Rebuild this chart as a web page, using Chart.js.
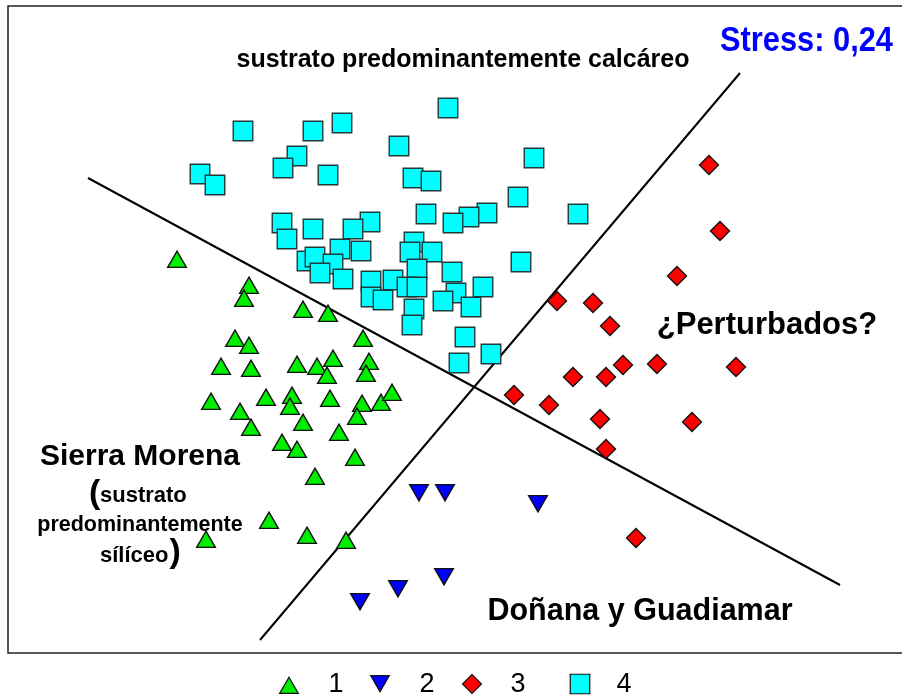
<!DOCTYPE html>
<html lang="es">
<head>
<meta charset="utf-8">
<title>MDS - Stress 0,24</title>
<script src="https://cdn.jsdelivr.net/npm/chart.js@4.4.1/dist/chart.umd.min.js"></script>
<style>
  html, body { margin: 0; padding: 0; background: #fff; }
  #wrap { width: 902px; height: 697px; position: relative; }
</style>
</head>
<body>
<div id="wrap"><canvas id="mds"></canvas></div>
<script>
// ordination coordinates (dimension 1, dimension 2), one array per group
const group1 = [
  [177, 262], [249, 288], [244, 301], [303, 312], [328, 316], [363, 341],
  [235, 341], [249, 348], [221, 369], [251, 371], [297, 367], [317, 369],
  [333, 361], [327, 378], [369, 364], [366, 376], [211, 404], [240, 414],
  [266, 400], [292, 398], [290, 409], [330, 401], [362, 406], [357, 419],
  [381, 405], [392, 395], [251, 430], [303, 425], [339, 435], [282, 445],
  [297, 452], [355, 460], [315, 479], [269, 523], [206, 542], [307, 538],
  [346, 543],
];
const group2 = [
  [419, 490], [445, 490], [538, 501], [360, 599], [398, 586], [444, 574],
];
const group3 = [
  [709, 165], [720, 231], [677, 276], [557, 301], [593, 303], [610, 326],
  [623, 365], [657, 364], [736, 367], [573, 377], [606, 377], [514, 395],
  [549, 405], [600, 419], [692, 422], [606, 449], [636, 538],
];
const group4 = [
  [243, 131], [313, 131], [342, 123], [297, 156], [283, 168], [328, 175],
  [399, 146], [200, 174], [215, 185], [413, 178], [431, 181], [448, 108],
  [534, 158], [518, 197], [578, 214], [426, 214], [487, 213], [469, 217],
  [453, 223], [282, 223], [287, 239], [313, 229], [370, 222], [353, 229],
  [340, 249], [361, 251], [307, 261], [315, 257], [333, 264], [320, 273],
  [343, 279], [414, 242], [410, 252], [432, 252], [417, 269], [452, 272],
  [521, 262], [371, 281], [393, 280], [371, 297], [383, 300], [407, 287],
  [417, 287], [414, 309], [412, 325], [456, 293], [443, 301], [483, 287],
  [471, 307], [465, 337], [459, 363], [491, 354],
];

// dividing lines between the groups
const divider1 = [[88, 178], [840, 585]];
const divider2 = [[260, 640], [740, 73]];

const groupNames = ["1", "2", "3", "4"];
const groupColors = ["#00ee00", "#0000ff", "#ff0000", "#00ffff"];

const toPoints = (rows) => rows.map(([x, y]) => ({ x, y }));

const markerStyles = [
  { pointStyle: "triangle", radius: 10.8, rotation: 0 },
  { pointStyle: "triangle", radius: 10.8, rotation: 180 },
  { pointStyle: "rectRot", radius: 9.5, rotation: 0 },
  { pointStyle: "rect", radius: 13.8, rotation: 0 },
];

const labels = [
  { text: "sustrato predominantemente calcáreo", x: 463, y: 60, size: 25 },
  { text: "¿Perturbados?", x: 767, y: 325, size: 31 },
  { text: "Sierra Morena", x: 140, y: 457, size: 30 },
  { text: "predominantemente", x: 140, y: 525, size: 21.5 },
  { text: "Doñana y Guadiamar", x: 640, y: 612, size: 30.5 },
];

function markerDataset(rows, index) {
  const style = markerStyles[index];
  return {
    label: groupNames[index],
    data: toPoints(rows),
    backgroundColor: groupColors[index],
    borderColor: index === 3 ? "#1d3b3b" : "#111",
    borderWidth: 1.4,
    pointStyle: style.pointStyle,
    pointRadius: style.radius,
    pointRotation: style.rotation,
    pointHoverRadius: style.radius,
    showLine: false,
  };
}

function lineDataset(rows) {
  return {
    type: "line",
    data: toPoints(rows),
    borderColor: "#000",
    borderWidth: 2,
    pointRadius: 0,
    showLine: true,
    fill: false,
    order: 10,
  };
}

const decorations = {
  id: "decorations",
  beforeDatasetsDraw(chart) {
    const { ctx, scales: { x, y } } = chart;
    ctx.save();
    ctx.strokeStyle = "#222";
    ctx.lineWidth = 1.5;
    const left = x.getPixelForValue(8);
    const top = y.getPixelForValue(6);
    const right = x.getPixelForValue(905);
    const bottom = y.getPixelForValue(653);
    ctx.strokeRect(left, top, right - left, bottom - top);
    ctx.restore();
  },
  afterDatasetsDraw(chart) {
    const { ctx, scales: { x, y } } = chart;
    ctx.save();
    ctx.fillStyle = "#000";
    ctx.textAlign = "center";
    ctx.textBaseline = "middle";
    labels.forEach((label) => {
      ctx.font = `bold ${label.size}px "Liberation Sans", Arial, sans-serif`;
      ctx.fillText(label.text, x.getPixelForValue(label.x), y.getPixelForValue(label.y));
    });

    // "(sustrato" and "silíceo)" use a taller bracket
    ctx.textAlign = "left";
    ctx.font = 'bold 34px "Liberation Sans", Arial, sans-serif';
    ctx.fillText("(", x.getPixelForValue(89), y.getPixelForValue(494));
    ctx.font = 'bold 22px "Liberation Sans", Arial, sans-serif';
    ctx.fillText("sustrato", x.getPixelForValue(100), y.getPixelForValue(496));
    ctx.fillText("sílíceo", x.getPixelForValue(100), y.getPixelForValue(556));
    const siliceoWidth = ctx.measureText("sílíceo").width;
    ctx.font = 'bold 34px "Liberation Sans", Arial, sans-serif';
    ctx.fillText(")", x.getPixelForValue(100) + siliceoWidth + 1, y.getPixelForValue(553));

    // condensed blue stress value in the top-right corner
    ctx.fillStyle = "#0000ff";
    ctx.textAlign = "right";
    ctx.font = 'bold 35px "Liberation Sans", sans-serif';
    const stressText = "Stress: 0,24";
    const squeeze = 173 / ctx.measureText(stressText).width;
    ctx.save();
    ctx.translate(x.getPixelForValue(893), y.getPixelForValue(41));
    ctx.scale(squeeze, 1);
    ctx.fillText(stressText, 0, 0);
    ctx.restore();

    // legend row under the frame
    const legendMarkers = [289, 380, 472, 580];
    const legendText = [336, 427, 518, 624];
    ctx.textAlign = "center";
    ctx.font = '27px "Liberation Sans", Arial, sans-serif';
    groupNames.forEach((name, i) => {
      const style = markerStyles[i];
      ctx.fillStyle = groupColors[i];
      ctx.strokeStyle = "#111";
      ctx.lineWidth = 1.2;
      const py = i === 0 ? 688 : i === 1 ? 681 : 684;
      Chart.helpers.drawPoint(ctx, {
        pointStyle: style.pointStyle,
        radius: style.radius,
        rotation: style.rotation,
        borderWidth: 1.2,
      }, x.getPixelForValue(legendMarkers[i]), y.getPixelForValue(py));
      ctx.fillStyle = "#000";
      ctx.fillText(name, x.getPixelForValue(legendText[i]), y.getPixelForValue(685));
    });
    ctx.restore();
  },
};

new Chart(document.getElementById("mds"), {
  type: "scatter",
  data: {
    datasets: [
      lineDataset(divider1),
      lineDataset(divider2),
      markerDataset(group4, 3),
      markerDataset(group1, 0),
      markerDataset(group2, 1),
      markerDataset(group3, 2),
    ],
  },
  options: {
    responsive: true,
    maintainAspectRatio: false,
    animation: false,
    events: [],
    layout: { padding: 0, autoPadding: false },
    plugins: {
      legend: { display: false },
      tooltip: { enabled: false },
    },
    scales: {
      x: { type: "linear", min: 0, max: 902, display: false },
      y: { type: "linear", min: 0, max: 697, reverse: true, display: false },
    },
  },
  plugins: [decorations],
});
</script>
</body>
</html>
